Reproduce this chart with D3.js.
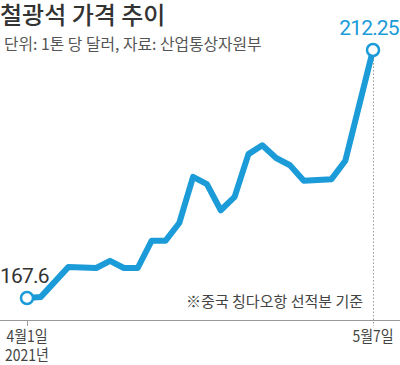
<!DOCTYPE html>
<html>
<head>
  <meta charset="utf-8">
  <title>철광석 가격 추이</title>
  <script src="https://d3js.org/d3.v7.min.js"></script>
  <style>
    body { margin: 0; background: #fff; }
    text { font-family: "Noto Sans CJK KR", "Noto Sans", sans-serif; }
    .num { font-family: Roboto, "Liberation Sans", sans-serif; }
  </style>
</head>
<body>
  <svg width="400" height="365"></svg>
  <script>
    // trading-day slots, 2021 (4/1 ~ 5/7)
    var slots = ["4/1", "4/2", "4/5", "4/6", "4/7", "4/8", "4/9", "4/12", "4/13", "4/14",
      "4/15", "4/16", "4/19", "4/20", "4/21", "4/22", "4/23", "4/26", "4/27", "4/28",
      "4/29", "4/30", "5/4", "5/5", "5/6", "5/7"];
    // price, USD per ton (null = no quote that day)
    var prices = [167.6, 167.8, null, 173.2, null, 173.0, 174.3, 173.0, 173.0, 177.9,
      177.9, 181.1, 189.4, 188.1, 183.4, 185.8, 193.5, 195.1, 192.8, 191.5,
      188.7, null, 189.0, 192.3, null, 212.25];
    var tickLabels = [["4월1일", "2021년"], ["5월7일"]];

    var blue = "#1b9bd8";
    var svg = d3.select("svg");

    var data = slots.map(function(s, i) { return { slot: s, v: prices[i] }; })
      .filter(function(d) { return d.v != null; });
    var first = data[0], last = data[data.length - 1];

    var x = d3.scalePoint().domain(slots).range([27, 373]);
    var y = d3.scaleLinear().domain([167.6, 212.25]).range([298, 50]);
    var baseY = 320;

    // title + subtitle
    svg.append("text").attr("x", 0).attr("y", 24)
      .attr("font-size", 24).attr("font-weight", 500).attr("fill", "#333")
      .text("철광석 가격 추이");
    svg.append("text").attr("x", 4).attr("y", 50)
      .attr("font-size", 15.8).attr("fill", "#555")
      .text("단위: 1톤 당 달러, 자료: 산업통상자원부");

    // baseline and ticks
    svg.append("line").attr("x1", 0).attr("x2", 400)
      .attr("y1", baseY + 0.5).attr("y2", baseY + 0.5)
      .attr("stroke", "#999").attr("stroke-width", 1);
    svg.append("line").attr("x1", x(first.slot) + 0.5).attr("x2", x(first.slot) + 0.5)
      .attr("y1", baseY).attr("y2", baseY + 6)
      .attr("stroke", "#999");
    svg.append("line").attr("x1", x(last.slot) + 0.5).attr("x2", x(last.slot) + 0.5)
      .attr("y1", y(last.v) + 6).attr("y2", baseY + 6)
      .attr("stroke", "#999").attr("stroke-dasharray", "1.5,2");

    [first, last].forEach(function(d, i) {
      var t = svg.append("text").attr("text-anchor", "middle")
        .attr("font-size", 15.5).attr("fill", "#444")
        .attr("transform", "translate(" + x(d.slot) + ",0) scale(0.9,1)");
      tickLabels[i].forEach(function(s, j) {
        t.append("tspan").attr("x", 0).attr("y", 342 + j * 19).text(s);
      });
    });

    // note
    svg.append("text").attr("x", 363).attr("y", 307).attr("text-anchor", "end")
      .attr("font-size", 15).attr("fill", "#444")
      .text("※중국 칭다오항 선적분 기준");

    // price line
    var line = d3.line()
      .x(function(d) { return x(d.slot); })
      .y(function(d) { return y(d.v); });
    svg.append("path").datum(data)
      .attr("d", line)
      .attr("fill", "none").attr("stroke", blue)
      .attr("stroke-width", 6).attr("stroke-linejoin", "round");

    svg.selectAll("circle.end").data([first, last]).enter().append("circle")
      .attr("cx", function(d) { return x(d.slot); })
      .attr("cy", function(d) { return y(d.v); })
      .attr("r", 6).attr("fill", "#fff")
      .attr("stroke", blue).attr("stroke-width", 2.5);

    // value labels
    svg.append("text").attr("class", "num")
      .attr("x", 0).attr("y", 283).attr("font-size", 21).attr("fill", "#333")
      .attr("letter-spacing", -0.8)
      .text(first.v);
    svg.append("text").attr("class", "num")
      .attr("x", 369).attr("y", 35).attr("text-anchor", "middle")
      .attr("font-size", 21).attr("fill", blue).attr("letter-spacing", -0.8)
      .text(last.v.toFixed(2));
  </script>
</body>
</html>
